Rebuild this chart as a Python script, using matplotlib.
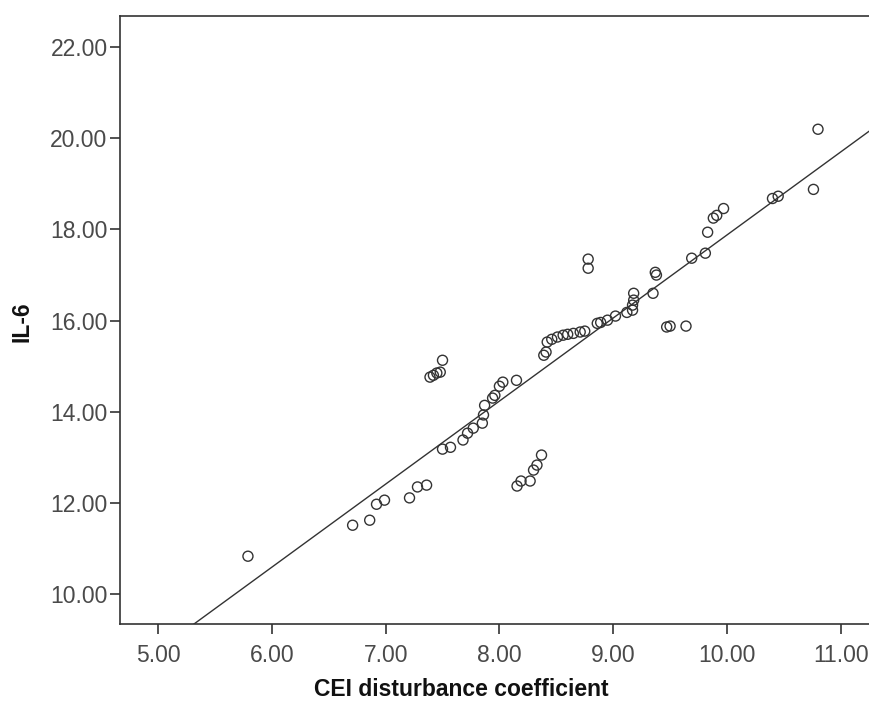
import numpy as np
import matplotlib
matplotlib.use("Agg")
import matplotlib.pyplot as plt

plt.rcParams['font.family'] = ['Liberation Sans', 'DejaVu Sans']

cei = [5.79, 6.71, 6.86, 6.92, 6.99, 7.21, 7.28, 7.36,
       7.50, 7.39, 7.42, 7.45, 7.48, 7.50, 7.57, 7.68, 7.72, 7.77, 7.85,
       7.86, 7.87, 7.94, 7.96, 8.00, 8.03, 8.15,
       8.155, 8.19, 8.27, 8.30, 8.33, 8.37,
       8.39, 8.41, 8.42, 8.46, 8.51, 8.56, 8.60, 8.65, 8.71, 8.75,
       8.86, 8.89, 8.95, 9.02, 9.12, 9.17, 9.17, 9.18, 9.18,
       8.78, 8.78, 9.37, 9.38, 9.35, 9.47, 9.50, 9.64,
       9.69, 9.81, 9.83, 9.88, 9.91, 9.97, 10.40, 10.45, 10.76, 10.80]
il6 = [10.83, 11.51, 11.62, 11.97, 12.06, 12.11, 12.35, 12.39,
       15.13, 14.76, 14.80, 14.85, 14.87, 13.18, 13.22, 13.38, 13.53, 13.64, 13.75,
       13.93, 14.14, 14.30, 14.36, 14.56, 14.65, 14.69,
       12.37, 12.48, 12.48, 12.72, 12.83, 13.05,
       15.24, 15.31, 15.53, 15.59, 15.64, 15.68, 15.70, 15.72, 15.75, 15.77,
       15.94, 15.96, 16.01, 16.10, 16.18, 16.23, 16.34, 16.45, 16.60,
       17.35, 17.15, 17.06, 17.00, 16.60, 15.86, 15.88, 15.88,
       17.37, 17.48, 17.94, 18.25, 18.31, 18.46, 18.68, 18.73, 18.88, 20.20]

x_ticks = [5, 6, 7, 8, 9, 10, 11]
y_ticks = [10, 12, 14, 16, 18, 20, 22]

fig = plt.figure(figsize=(8.7, 7.06), dpi=100)
ax = fig.add_axes([0.138, 0.116, 0.862, 0.861])

ax.scatter(cei, il6, s=52, facecolors='none', edgecolors='#333333', linewidths=1.0, zorder=3)

slope, intercept = np.polyfit(cei, il6, 1)
xl = np.array([4.5, 11.5])
ax.plot(xl, slope * xl + intercept, color='#333333', linewidth=1.0, zorder=2)

ax.set_xlim(4.666, 11.257)
ax.set_ylim(9.34, 22.68)
ax.set_xticks(x_ticks)
ax.set_xticklabels([f"{v:.2f}" for v in x_ticks])
ax.set_yticks(y_ticks)
ax.set_yticklabels([f"{v:.2f}" for v in y_ticks])
ax.tick_params(direction='out', length=7, width=1.2, color='#333333',
               labelsize=16.5, labelcolor='#4a4a4a')
ax.tick_params(axis='x', pad=7)
ax.tick_params(axis='y', pad=2)
for s in ['left', 'bottom', 'top']:
    ax.spines[s].set_color('#333333')
    ax.spines[s].set_linewidth(1.2)
ax.spines['right'].set_visible(False)

fig.text(461 / 870, 1 - 690 / 706, 'CEI disturbance coefficient', fontsize=16.5,
         fontweight='bold', ha='center', va='center', color='#111111')
fig.text(22 / 870, 1 - 322 / 706, 'IL-6', fontsize=16.5, fontweight='bold',
         ha='center', va='center', rotation=90, color='#111111')

fig.savefig('out.png', dpi=100)
